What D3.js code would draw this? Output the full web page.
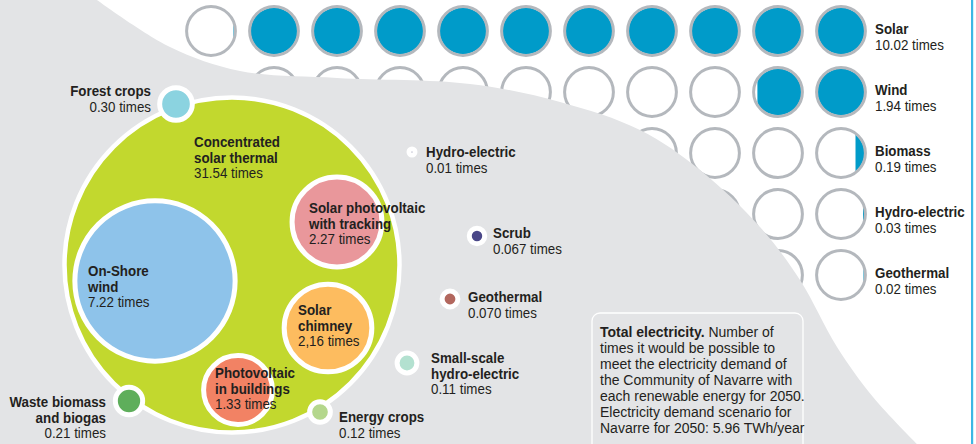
<!DOCTYPE html>
<html>
<head>
<meta charset="utf-8">
<script src="https://cdn.jsdelivr.net/npm/d3@7"></script>
<style>
  html, body { margin: 0; padding: 0; background: #ffffff; }
  svg { display: block; }
  text { font-family: "Liberation Sans", Arial, sans-serif; fill: #231f20; }
</style>
</head>
<body>
<svg id="chart" width="976" height="444"></svg>
<script>
// ---- Technical potential by source: multiples of the 2050 electricity demand ----
const bubbleNames = [
  "Concentrated solar thermal", "On-Shore wind", "Solar photovoltaic with tracking",
  "Solar chimney", "Photovoltaic in buildings", "Forest crops", "Waste biomass and biogas",
  "Energy crops", "Small-scale hydro-electric", "Geothermal", "Scrub", "Hydro-electric"
];
const bubbleValues = [31.54, 7.22, 2.27, 2.16, 1.33, 0.30, 0.21, 0.12, 0.11, 0.070, 0.067, 0.01];
const bubbleLabels = [
  ["Concentrated", "solar thermal"], ["On-Shore", "wind"], ["Solar photovoltaic", "with tracking"],
  ["Solar", "chimney"], ["Photovoltaic", "in buildings"], ["Forest crops"], ["Waste biomass", "and biogas"],
  ["Energy crops"], ["Small-scale", "hydro-electric"], ["Geothermal"], ["Scrub"], ["Hydro-electric"]
];
const bubbleValueText = [
  "31.54 times", "7.22 times", "2.27 times", "2,16 times", "1.33 times", "0.30 times",
  "0.21 times", "0.12 times", "0.11 times", "0.070 times", "0.067 times", "0.01 times"
];

// ---- Circle grid: multiples of demand, one circle per unit ----
const gridNames = ["Solar", "Wind", "Biomass", "Hydro-electric", "Geothermal"];
const gridValues = [10.02, 1.94, 0.19, 0.03, 0.02];
const gridValueText = ["10.02 times", "1.94 times", "0.19 times", "0.03 times", "0.02 times"];
const gridColumns = d3.range(11);

const noteLines = [
  [["Total electricity.", true], [" Number of", false]],
  [["times it would be possible to", false]],
  [["meet the electricity demand of", false]],
  [["the Community of Navarre with", false]],
  [["each renewable energy for 2050.", false]],
  [["Electricity demand scenario for", false]],
  [["Navarre for 2050: 5.96 TWh/year", false]]
];

// ---- Layout and styling ----
const bubbleColors = {
  "Concentrated solar thermal": "#c2d82e",
  "On-Shore wind": "#8ec3ea",
  "Solar photovoltaic with tracking": "#e9979b",
  "Solar chimney": "#fdbc5f",
  "Photovoltaic in buildings": "#f28264",
  "Forest crops": "#8bd3e0",
  "Waste biomass and biogas": "#5eae5b",
  "Energy crops": "#b4d78c",
  "Small-scale hydro-electric": "#b3e1d0",
  "Geothermal": "#b2675e",
  "Scrub": "#4a4788",
  "Hydro-electric": "#2e2e66"
};
// bubble centres and label anchors (first baseline)
const bubbleLayout = {
  "Concentrated solar thermal":      { cx: 232, cy: 265, lx: 194, ly: 147, anchor: "start" },
  "On-Shore wind":                   { cx: 155, cy: 281, lx: 88,  ly: 276, anchor: "start" },
  "Solar photovoltaic with tracking":{ cx: 337, cy: 222, lx: 309, ly: 213, anchor: "start" },
  "Solar chimney":                   { cx: 328, cy: 328, lx: 298, ly: 315, anchor: "start" },
  "Photovoltaic in buildings":       { cx: 238, cy: 390, lx: 215, ly: 378, anchor: "start" },
  "Forest crops":                    { cx: 176, cy: 104, lx: 151, ly: 96,  anchor: "end" },
  "Waste biomass and biogas":        { cx: 129, cy: 401, lx: 106, ly: 407, anchor: "end" },
  "Energy crops":                    { cx: 320, cy: 412, lx: 339, ly: 422, anchor: "start" },
  "Small-scale hydro-electric":      { cx: 407, cy: 363, lx: 431, ly: 363, anchor: "start" },
  "Geothermal":                      { cx: 450, cy: 299, lx: 468, ly: 302, anchor: "start" },
  "Scrub":                           { cx: 477, cy: 236, lx: 493, ly: 238, anchor: "start" },
  "Hydro-electric":                  { cx: 412, cy: 152, lx: 426, ly: 157, anchor: "start" }
};

const W = 976, H = 444;
const lineGap = 15.6;
const squeeze = 0.89;   // condensed lettering for labels
const svg = d3.select("#chart");

// multi-line label: bold name lines followed by a regular value line
function addLabel(parent, x, y, anchor, lines, valueText, size) {
  const t = parent.append("text")
    .attr("transform", `translate(${x},${y}) scale(${squeeze},1)`)
    .attr("text-anchor", anchor)
    .style("font-size", size + "px");
  lines.forEach((line, k) => {
    t.append("tspan").attr("x", 0).attr("dy", k === 0 ? 0 : lineGap)
      .attr("font-weight", "bold").text(line);
  });
  t.append("tspan").attr("x", 0).attr("dy", lineGap).text(valueText);
  return t;
}

svg.append("rect").attr("width", W).attr("height", H).attr("fill", "#ffffff");

// ---- Grid of circles (top right) ----
const xGrid = d3.scalePoint().domain(gridColumns).range([211, 841]);
const yGrid = d3.scalePoint().domain(gridNames).range([31, 275]);
const rGrid = 23.4;
const gridG = svg.append("g");

gridNames.forEach((name, i) => {
  const v = gridValues[i];
  const cy = yGrid(name);
  gridColumns.forEach(col => {
    const fromRight = gridColumns.length - 1 - col;
    const frac = Math.max(0, Math.min(1, v - fromRight));
    const cx = xGrid(col);
    const clipId = `gc-${i}-${col}`;
    gridG.append("clipPath").attr("id", clipId)
      .append("circle").attr("cx", cx).attr("cy", cy).attr("r", rGrid);
    gridG.append("circle").attr("cx", cx).attr("cy", cy).attr("r", rGrid).attr("fill", "#ffffff");
    if (frac > 0) {
      const w = frac * 2 * rGrid;
      gridG.append("rect")
        .attr("clip-path", `url(#${clipId})`)
        .attr("x", cx + rGrid - w).attr("y", cy - rGrid)
        .attr("width", w).attr("height", 2 * rGrid)
        .attr("fill", "#009bc9");
    }
    gridG.append("circle").attr("cx", cx).attr("cy", cy).attr("r", rGrid + 1)
      .attr("fill", "none").attr("stroke", "#b4b8bd").attr("stroke-width", 3);
  });
});

// grid labels
const gridLabelG = svg.append("g");
gridNames.forEach((name, i) => {
  addLabel(gridLabelG, 875, yGrid(name) + 3, "start", [name], gridValueText[i], 15);
});

// ---- Grey backdrop sweeping across the page ----
const edge = [[97, 0], [170, 47], [240, 71], [337, 78], [470, 84], [560, 102], [640, 130],
              [700, 170], [760, 227], [800, 280], [837, 347], [873, 397], [917, 444]];
const edgePath = d3.line().curve(d3.curveCatmullRom.alpha(0.5))(edge);
svg.append("path")
  .attr("d", edgePath + `L0,${H}L0,0Z`)
  .attr("fill", "#e3e4e6");

// thin accent rule on the right
svg.append("rect").attr("x", 971).attr("y", 0).attr("width", 2.2).attr("height", H).attr("fill", "#3db7e4");

// ---- Bubbles ----
const rScale = d3.scaleSqrt().domain([0, 31.54]).range([0, 167.5]);
const bubbles = bubbleNames.map((name, i) => ({
  name, value: bubbleValues[i], lines: bubbleLabels[i], valueText: bubbleValueText[i],
  ...bubbleLayout[name]
}));

svg.append("g").selectAll("circle").data(bubbles).join("circle")
  .attr("cx", d => d.cx).attr("cy", d => d.cy)
  .attr("r", d => rScale(d.value))
  .attr("fill", d => bubbleColors[d.name])
  .attr("stroke", "#ffffff")
  .attr("stroke-width", d => d.value > 20 ? 4.5 : 5);

// bubble labels
const labelG = svg.append("g");
bubbles.forEach(d => addLabel(labelG, d.lx, d.ly, d.anchor, d.lines, d.valueText, 15));

// ---- Note box ----
svg.append("rect")
  .attr("x", 592).attr("y", 313).attr("width", 211).attr("height", 150).attr("rx", 8)
  .attr("fill", "#e3e4e6").attr("stroke", "#ffffff").attr("stroke-width", 1.3);
const note = svg.append("text").attr("x", 600).attr("y", 337).style("font-size", "14px");
noteLines.forEach((parts, k) => {
  parts.forEach((p, j) => {
    const ts = note.append("tspan").text(p[0]).attr("font-weight", p[1] ? "bold" : "normal");
    if (j === 0) ts.attr("x", 600).attr("dy", k === 0 ? 0 : 16);
  });
});
</script>
</body>
</html>
